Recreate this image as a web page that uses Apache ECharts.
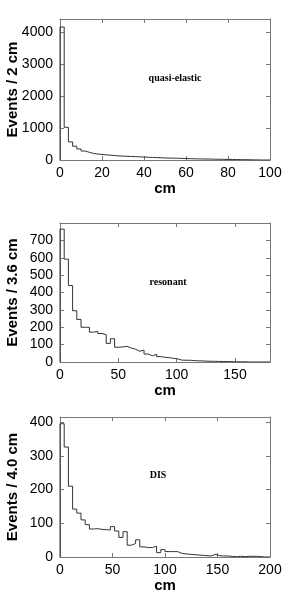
<!DOCTYPE html>
<html>
<head>
<meta charset="utf-8">
<script src="https://cdn.jsdelivr.net/npm/echarts@6/dist/echarts.min.js"></script>
<style>html,body{margin:0;padding:0;background:#fff}#c{width:300px;height:600px}</style>
</head>
<body>
<div id="c"></div>
<script>
// ---- data ----
var qeBinWidth = 2;
var qeCounts = [4150, 1020, 565, 430, 345, 280, 240, 205, 185, 175, 160, 150, 140, 130, 120, 115, 110, 105, 100, 90, 85, 80, 75, 70, 65, 60, 58, 55, 50, 45, 40, 38, 35, 32, 30, 28, 25, 22, 20, 18, 16, 14, 12, 10, 8, 5, 3, 0, 0, 0];
var resBinWidth = 3.6;
var resCounts = [765, 592, 440, 295, 245, 200, 200, 172, 176, 164, 157, 107, 134, 85, 87, 90, 80, 73, 62, 68, 46, 36, 44, 31, 27, 25, 21, 18, 11, 10, 10, 8, 7, 6, 5, 4, 4, 3, 3, 2, 2, 1, 1, 1, 0, 0, 0, 0, 0, 0];
var disBinWidth = 4.0;
var disCounts = [395, 326, 210, 142, 130, 110, 96, 83, 84, 82, 81, 80, 90, 77, 58, 75, 35, 40, 51, 30, 28, 28, 32, 13, 22, 16, 16, 16, 11, 9, 8, 7, 6, 5, 4, 3, 8, 4, 3, 3, 2, 1, 2, 1, 2, 2, 2, 1, 0, 0];

var yTitles = ['Events / 2 cm', 'Events / 3.6 cm', 'Events / 4.0 cm'];
var xTitle = 'cm';
var labels = ['quasi-elastic', 'resonant', 'DIS'];
var xMaxes = [100, 180, 200];
var xIntervals = [20, 50, 50];
var yMaxes = [4400, 800, 415];
var yIntervals = [1000, 100, 100];

// ---- build ----
function histPoints(counts, bw) {
  var pts = [[0, 0]];
  for (var i = 0; i < counts.length; i++) pts.push([i * bw, counts[i]]);
  pts.push([counts.length * bw, counts[counts.length - 1]]);
  return pts;
}
var panels = [
  {counts: qeCounts, bw: qeBinWidth},
  {counts: resCounts, bw: resBinWidth},
  {counts: disCounts, bw: disBinWidth}
];
var gridTops = [19, 223, 417];
var gridHeights = [141, 139, 140];
var labelPos = [[175, 78], [168, 282], [158, 475]];

var axisColor = '#777';
function plain(v) { return String(v); }
var grids = [], xAxes = [], yAxes = [], series = [], graphics = [];
panels.forEach(function (p, i) {
  grids.push({left: 60, width: 210, top: gridTops[i], height: gridHeights[i], containLabel: false, outerBoundsMode: 'none'});
  var tick = {inside: true, length: 4, lineStyle: {color: axisColor}};
  var line = {show: true, onZero: false, lineStyle: {color: axisColor, width: 1}};
  xAxes.push({
    type: 'value', gridIndex: i, position: 'bottom', min: 0, max: xMaxes[i], interval: xIntervals[i],
    axisLine: line, axisTick: tick, splitLine: {show: false},
    axisLabel: {color: '#000', fontSize: 14, fontFamily: 'Liberation Sans', margin: 6, formatter: plain,
      showMaxLabel: xMaxes[i] % xIntervals[i] === 0},
    name: xTitle, nameLocation: 'middle', nameGap: 21, nameMoveOverlap: false,
    nameTextStyle: {color: '#000', fontSize: 15, fontWeight: 'bold', fontFamily: 'Liberation Sans'}
  });
  xAxes.push({
    type: 'value', gridIndex: i, position: 'top', min: 0, max: xMaxes[i], interval: xIntervals[i],
    axisLine: line, axisTick: tick, splitLine: {show: false}, axisLabel: {show: false}
  });
  yAxes.push({
    type: 'value', gridIndex: i, position: 'left', min: 0, max: yMaxes[i], interval: yIntervals[i],
    axisLine: line, axisTick: tick, splitLine: {show: false},
    axisLabel: {color: '#000', fontSize: 14, fontFamily: 'Liberation Sans', margin: 7, formatter: plain, showMaxLabel: false},
    name: yTitles[i], nameLocation: 'middle', nameGap: 40, nameMoveOverlap: false,
    nameTextStyle: {color: '#000', fontSize: 15, fontWeight: 'bold', fontFamily: 'Liberation Sans'}
  });
  yAxes.push({
    type: 'value', gridIndex: i, position: 'right', min: 0, max: yMaxes[i], interval: yIntervals[i],
    axisLine: line, axisTick: tick, splitLine: {show: false}, axisLabel: {show: false}
  });
  series.push({
    type: 'line', step: 'end', xAxisIndex: 2 * i, yAxisIndex: 2 * i,
    data: histPoints(p.counts, p.bw), symbol: 'none', silent: true,
    lineStyle: {color: '#333', width: 1}
  });
  graphics.push({
    type: 'text', x: labelPos[i][0], y: labelPos[i][1],
    style: {text: labels[i], font: 'bold 10px "Liberation Serif"', fill: '#000', textAlign: 'center', textVerticalAlign: 'middle'}
  });
});

var chart = echarts.init(document.getElementById('c'), null, {renderer: 'canvas'});
chart.setOption({
  animation: false,
  backgroundColor: '#fff',
  grid: grids, xAxis: xAxes, yAxis: yAxes, series: series,
  graphic: graphics
});
</script>
</body>
</html>
